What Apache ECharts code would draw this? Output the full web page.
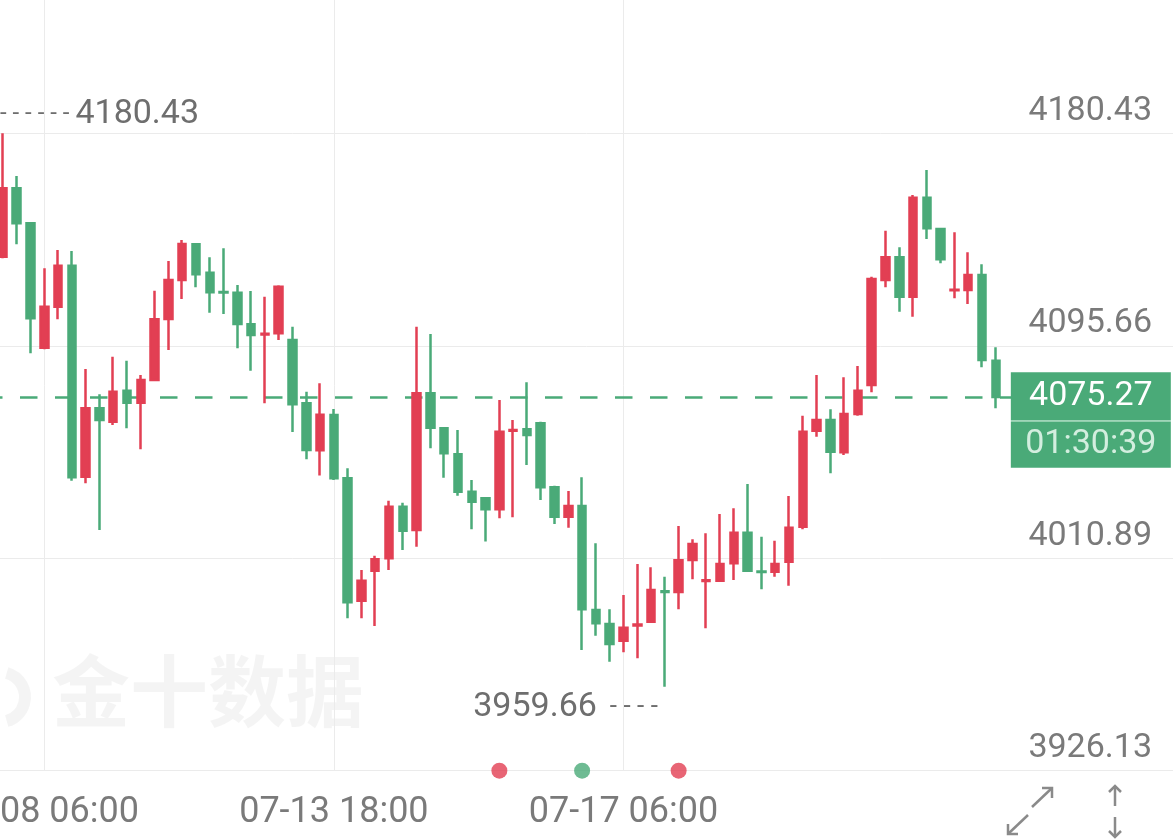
<!DOCTYPE html>
<html>
<head>
<meta charset="utf-8">
<title>K线</title>
<script src="https://cdn.jsdelivr.net/npm/echarts@6/dist/echarts.min.js"></script>
<style>
html,body{margin:0;padding:0;background:#fff;overflow:hidden;}
#kline_chart{width:1173px;height:839px;}
</style>
</head>
<body>
<div id="kline_chart"></div>
<script>
// 4小时K线 时间
var times = [
	'07-07 18:00','07-07 22:00','07-08 02:00','07-08 06:00','07-08 10:00','07-08 14:00','07-08 18:00','07-08 22:00',
	'07-09 02:00','07-09 06:00','07-09 10:00','07-09 14:00','07-09 18:00','07-09 22:00','07-10 02:00','07-10 06:00',
	'07-10 10:00','07-10 14:00','07-10 18:00','07-10 22:00','07-11 02:00','07-11 06:00','07-11 10:00','07-11 14:00',
	'07-13 18:00','07-13 22:00','07-14 02:00','07-14 06:00','07-14 10:00','07-14 14:00','07-14 18:00','07-14 22:00',
	'07-15 02:00','07-15 06:00','07-15 10:00','07-15 14:00','07-15 18:00','07-15 22:00','07-16 02:00','07-16 06:00',
	'07-16 10:00','07-16 14:00','07-16 18:00','07-16 22:00','07-17 02:00','07-17 06:00','07-17 10:00','07-17 14:00',
	'07-17 18:00','07-17 22:00','07-18 02:00','07-18 06:00','07-18 10:00','07-18 14:00','07-20 18:00','07-20 22:00',
	'07-21 02:00','07-21 06:00','07-21 10:00','07-21 14:00','07-21 18:00','07-21 22:00','07-22 02:00','07-22 06:00',
	'07-22 10:00','07-22 14:00','07-22 18:00','07-22 22:00','07-23 02:00','07-23 06:00','07-23 10:00','07-23 14:00',
	'07-23 18:00'
];
var openArr = [
	4131.21,4158.50,4144.54,4094.91,4111.27,4127.62,4043.44,4070.73,4065.38,4077.75,
	4072.97,4082.02,4106.36,4121.92,4136.16,4124.83,4117.13,4116.85,4104.24,4100.17,
	4100.65,4097.98,4072.72,4053.97,4068.06,4042.80,3993.96,4005.93,4010.88,4031.47,
	4022.17,4076.71,4062.75,4052.37,4037.45,4034.82,4030.43,4061.80,4062.35,4064.75,
	4039.21,4027.47,4031.75,3990.25,3984.67,3978.00,3984.07,3985.58,3997.71,3997.43,
	4010.20,4001.82,4001.94,4008.88,4021.09,4005.60,4005.53,4009.52,4023.49,4061.79,
	4066.06,4053.17,4068.45,4080.02,4121.92,4130.97,4115.25,4154.76,4142.27,4117.81,
	4117.93,4123.91,4089.72
];
var closeArr = [
	4158.50,4144.54,4106.63,4111.27,4127.62,4043.20,4070.73,4066.06,4077.36,4072.97,
	4082.02,4106.24,4121.92,4136.28,4124.19,4117.01,4116.90,4104.36,4099.97,4100.45,
	4119.24,4072.32,4054.09,4068.18,4042.80,3993.33,4001.94,4010.48,4031.47,4021.89,
	4076.71,4062.99,4052.77,4037.45,4033.46,4030.43,4061.39,4062.07,4060.07,4039.21,
	4027.47,4031.75,3990.53,3984.95,3976.69,3983.19,3984.47,3998.23,3997.43,4010.08,
	4016.58,4002.10,4008.60,4021.09,4005.93,4005.41,4008.60,4023.09,4061.39,4066.06,
	4053.41,4068.45,4077.75,4122.31,4130.97,4115.25,4154.76,4142.55,4130.18,4118.05,
	4123.91,4090.00,4075.27
];
var lowArr = [
	4130.60,4136.16,4092.67,4094.27,4106.24,4041.84,4040.80,4022.17,4064.07,4062.75,
	4054.37,4081.74,4093.99,4114.34,4119.00,4108.87,4108.35,4094.67,4085.73,4072.72,
	4097.98,4061.27,4050.38,4043.92,4042.12,3986.94,3986.94,3983.87,4006.21,4014.19,
	4015.51,4054.77,4043.04,4035.86,4022.45,4017.58,4026.84,4027.24,4048.10,4034.14,
	4024.56,4023.09,3974.29,3980.00,3969.62,3973.37,3970.98,3985.50,3959.66,3990.53,
	4002.50,3982.95,4001.90,4002.22,4005.90,3998.51,4003.53,3999.95,4022.45,4059.40,
	4044.79,4052.09,4067.78,4077.10,4119.00,4109.27,4107.27,4138.28,4128.58,4114.62,
	4112.35,4087.09,4070.73
];
var highArr = [
	4180.43,4163.41,4144.94,4126.59,4133.89,4133.49,4086.41,4076.31,4091.32,4089.72,
	4084.01,4117.65,4129.50,4137.88,4136.50,4130.97,4134.57,4119.92,4117.53,4115.25,
	4119.80,4103.29,4077.36,4080.70,4070.45,4046.79,4006.21,4011.92,4033.86,4033.07,
	4103.29,4100.37,4063.15,4062.07,4042.12,4035.34,4074.04,4066.06,4081.10,4065.38,
	4039.85,4037.73,4043.20,4016.86,3990.53,3996.23,4008.60,4007.28,4003.53,4023.77,
	4018.46,4020.85,4028.56,4030.83,4040.53,4019.50,4017.90,4035.73,4067.78,4084.01,
	4070.33,4083.09,4087.60,4123.23,4141.59,4134.96,4155.83,4165.81,4142.55,4140.95,
	4132.97,4128.18,4095.07
];
// 右侧刻度
var yTicks = [3926.13, 4010.89, 4095.66, 4180.43];
// 底部时间标签所在K线
var xLabelIdx = [3, 24, 45];
// 底部事件圆点
var eventIdx = [36, 42, 49];
var eventUp = [true, false, true];
var countdown = '01:30:39';

var RED = '#e23f53';
var GREEN = '#4aaa78';
var TXT = '#7a7a7a';

function hasFont(name){
	var ctx = document.createElement('canvas').getContext('2d');
	ctx.font = '40px monospace';
	var w0 = ctx.measureText('4180.43 07-13').width;
	ctx.font = '40px "' + name + '", monospace';
	return ctx.measureText('4180.43 07-13').width != w0;
}
var narrow = hasFont('Liberation Sans Narrow');
var numFont = narrow ? '"Liberation Sans Narrow"' : 'Roboto';
var numSize = narrow ? 40 : 34;
var timeSize = narrow ? 42 : 36;

$ready();

function $ready(){
	var kData = [];
	for(var i=0;i<openArr.length;i++){
		kData.push([openArr[i], closeArr[i], lowArr[i], highArr[i]]);
	}
	var last = kData.length - 1;
	var dots = [];
	for(var j=0;j<eventIdx.length;j++){
		dots.push({value:[eventIdx[j], yTicks[0]], itemStyle:{color: eventUp[j] ? RED : GREEN}});
	}
	// 网格线: 横线带右侧刻度, 竖线对准时间标签
	var gridLines = [];
	for(var k=0;k<yTicks.length;k++){
		gridLines.push({yAxis: yTicks[k]});
	}
	for(var m=0;m<xLabelIdx.length;m++){
		gridLines.push({xAxis: times[xLabelIdx[m]], label:{show:false}});
	}
	var myChart = echarts.init(document.getElementById('kline_chart'));
	var option = {
		animation:false,
		grid:{left:-4, top:0, width:1186, bottom:68.3, outerBoundsMode:'none', containLabel:false},
		xAxis:{
			type:'category',
			data:times,
			max:85,
			boundaryGap:true,
			axisLine:{lineStyle:{color:'#e6e6e6', width:1}},
			axisTick:{show:false},
			axisLabel:{
				interval:function(idx){ return xLabelIdx.indexOf(idx) > -1; },
				margin:24,
				color:TXT,
				fontFamily:numFont,
				fontSize:timeSize
			},
			splitLine:{show:false}
		},
		yAxis:{
			type:'value',
			scale:true,
			min:3926.13,
			max:4233.63,
			show:false,
			splitLine:{show:false}
		},
		graphic:[
			{type:'text', left:52, top:652, z:-1, silent:true,
				style:{text:'金十数据', font:'bold 78px "Noto Sans CJK SC"', fill:'rgba(0,0,0,0.045)'}},
			{type:'arc', z:-1, silent:true, shape:{cx:0, cy:697, r:25, startAngle:-1.3, endAngle:1.3},
				style:{stroke:'rgba(0,0,0,0.045)', lineWidth:12, fill:null}},
			// 缩放图标
			{type:'group', silent:true, children:[
				{type:'line', shape:{x1:1032,y1:807,x2:1052,y2:788}, style:{stroke:'#8a8a8a', lineWidth:2.5}},
				{type:'polyline', shape:{points:[[1042,788],[1052,788],[1052,798]]}, style:{stroke:'#8a8a8a', lineWidth:2.5, fill:null}},
				{type:'line', shape:{x1:1028,y1:815,x2:1008,y2:834}, style:{stroke:'#8a8a8a', lineWidth:2.5}},
				{type:'polyline', shape:{points:[[1008,824],[1008,834],[1018,834]]}, style:{stroke:'#8a8a8a', lineWidth:2.5, fill:null}},
				{type:'line', shape:{x1:1115,y1:786,x2:1115,y2:806}, style:{stroke:'#8a8a8a', lineWidth:2.5}},
				{type:'polyline', shape:{points:[[1109,792],[1115,786],[1121,792]]}, style:{stroke:'#8a8a8a', lineWidth:2.5, fill:null}},
				{type:'line', shape:{x1:1115,y1:817,x2:1115,y2:837}, style:{stroke:'#8a8a8a', lineWidth:2.5}},
				{type:'polyline', shape:{points:[[1109,831],[1115,837],[1121,831]]}, style:{stroke:'#8a8a8a', lineWidth:2.5, fill:null}}
			]}
		],
		series:[
			{
				type:'scatter',
				data:dots,
				symbolSize:16,
				clip:false,
				z:3,
				silent:true,
				markLine:{
					silent:true,
					symbol:'none',
					z:1,
					lineStyle:{color:'#ebebeb', width:1, type:'solid'},
					label:{
						position:'insideEndTop',
						distance:[30, 5],
						color:TXT,
						fontFamily:numFont,
						fontSize:numSize,
						formatter:function(p){ return p.value.toFixed(2); }
					},
					data:gridLines
				}
			},
			{
				type:'candlestick',
				data:kData,
				barWidth:8,
				z:2,
				itemStyle:{color:RED, color0:GREEN, borderColor:RED, borderColor0:GREEN, borderWidth:2.5},
				markLine:{
					silent:true,
					symbol:'none',
					z:2,
					label:{show:false},
					lineStyle:{color:GREEN, width:2.5, type:[17.5,17.5], dashOffset:11},
					data:[{yAxis:closeArr[last]}]
				},
				markPoint:{
					silent:true,
					symbol:'rect',
					symbolSize:1,
					z:10,
					itemStyle:{color:'rgba(0,0,0,0)'},
					data:[
						{type:'max', valueDim:'highest',
							label:{position:'inside', align:'left', verticalAlign:'middle', offset:[-3,-19],
								formatter:function(p){ return '{d|- - - - - - }{v|' + p.value.toFixed(2) + '}'; },
								rich:{
									d:{fontFamily:'Roboto', fontSize:24, color:'#6e6e6e'},
									v:{fontFamily:numFont, fontSize:numSize, color:'#6e6e6e'}
								}}},
						{type:'min', valueDim:'lowest',
							label:{position:'inside', align:'right', verticalAlign:'middle', offset:[-7,21],
								formatter:function(p){ return '{v|' + p.value.toFixed(2) + '}{d|  - - - -}'; },
								rich:{
									d:{fontFamily:'Roboto', fontSize:26, color:'#6e6e6e'},
									v:{fontFamily:numFont, fontSize:numSize, color:'#6e6e6e'}
								}}},
						{coord:[last, closeArr[last]], value:closeArr[last],
							label:{position:'inside', align:'left', verticalAlign:'middle', offset:[15,23],
								formatter:function(p){ return '{a|' + p.value.toFixed(2) + '}\n{s| }\n{b|' + countdown + '}'; },
								rich:{
									a:{fontFamily:numFont, fontSize:numSize, color:'#fff', width:160, height:48, align:'center', backgroundColor:GREEN},
									s:{fontSize:1, width:160, height:1.5, lineHeight:1.5, backgroundColor:'#8fcfad'},
									b:{fontFamily:numFont, fontSize:numSize, color:'#d3eedf', width:160, height:46, align:'center', backgroundColor:GREEN}
								}}}
					]
				}
			}
		]
	};
	myChart.setOption(option);
}
</script>
</body>
</html>
